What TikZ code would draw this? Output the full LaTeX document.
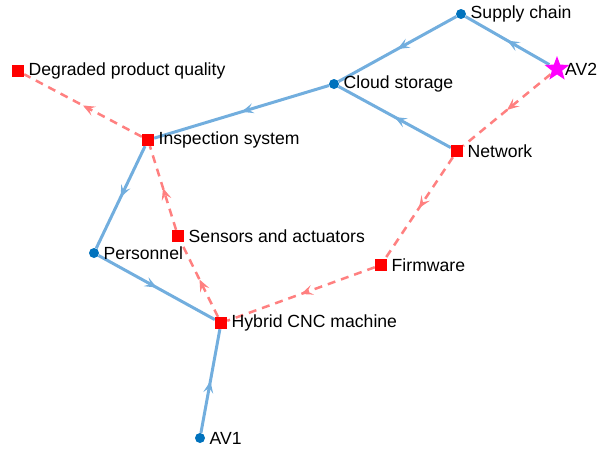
\documentclass[tikz,border=0pt]{standalone}
\usepackage{fontspec}
\setmainfont{Liberation Sans}
\usetikzlibrary{
  arrows.meta,
  shapes.geometric,
  decorations.markings,
  backgrounds
}
\definecolor{dotblue}{RGB}{0,114,189}
\definecolor{lineblue}{RGB}{114,174,222}
\definecolor{linered}{RGB}{255,128,128}
\definecolor{starpink}{RGB}{255,0,255}
\definecolor{boxred}{RGB}{255,0,0}
\tikzset{
  every label/.style={font=\fontsize{17.6}{20}\selectfont, label distance=1pt},
  dot/.style={circle, fill=dotblue, inner sep=0pt, minimum size=10pt},
  sq/.style={rectangle, fill=boxred, inner sep=0pt, minimum size=12pt},
  av/.style={star, star points=5, star point ratio=2.4, fill=starpink, inner sep=0pt, minimum size=26pt},
  midarrow/.style={postaction={decorate}, decoration={markings,
    mark=at position 0.5 with {\arrow{Stealth[length=12pt,width=10pt,inset=5pt]}}}},
  link/.style={draw=lineblue, line width=3pt, midarrow},
  attack/.style={draw=linered, line width=2.5pt, dash pattern=on 8pt off 6pt, midarrow}
}

\begin{document}
\begin{tikzpicture}[x=1pt, y=-1pt]
    \useasboundingbox (0,0) rectangle (598,450);
    \node[dot, label=right:Supply chain] (supply) at (461,14) {};
    \node[av, label={[label distance=-3pt]right:AV2}] (av2) at (557,69) {};
    \node[dot, label=right:Cloud storage] (cloud) at (334,84) {};
    \node[sq, label=right:Degraded product quality] (degraded) at (18,71) {};
    \node[sq, label=right:Inspection system] (inspect) at (148,140) {};
    \node[sq, label=right:Network] (network) at (457,151) {};
    \node[sq, label=right:Sensors and actuators] (sensors) at (178,236) {};
    \node[dot, label=right:Personnel] (personnel) at (94,253) {};
    \node[sq, label=right:Firmware] (firmware) at (381,265) {};
    \node[sq, label=right:Hybrid CNC machine] (cnc) at (221,323) {};
    \node[dot, label=right:AV1] (av1) at (200,438) {};
    \begin{scope}[on background layer]
      \draw[link] (av2) -- (supply);
      \draw[link] (supply) -- (cloud);
      \draw[link] (network) -- (cloud);
      \draw[link] (cloud) -- (inspect);
      \draw[link] (inspect) -- (personnel);
      \draw[link] (personnel) -- (cnc);
      \draw[link] (av1) -- (cnc);
      \draw[attack] (av2) -- (network);
      \draw[attack] (network) -- (firmware);
      \draw[attack] (firmware) -- (cnc);
      \draw[attack] (cnc) -- (sensors);
      \draw[attack] (sensors) -- (inspect);
      \draw[attack] (inspect) -- (degraded);
    \end{scope}
\end{tikzpicture}
\end{document}
